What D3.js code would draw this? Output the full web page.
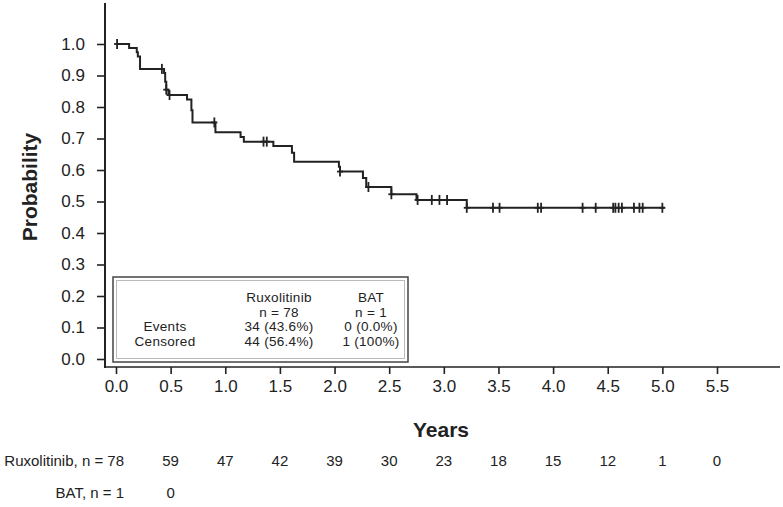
<!DOCTYPE html>
<html><head><meta charset="utf-8">
<script src="https://cdn.jsdelivr.net/npm/d3@7"></script>
<style>
body{margin:0;background:#fff}
text{font-family:Arial,"Liberation Sans",Helvetica,sans-serif;fill:#222}
</style>
</head><body>
<svg id="c" width="783" height="507"></svg>
<script>
// Kaplan-Meier step curve (Ruxolitinib)
const stepTimes = [0, 0.12, 0.19, 0.20, 0.22, 0.44, 0.45, 0.46, 0.48, 0.65, 0.69, 0.70, 0.91, 1.14, 1.17, 1.44, 1.61, 1.63, 2.04, 2.05, 2.26, 2.29, 2.52, 2.75, 3.21];
const stepSurv  = [1.0, 0.987, 0.974, 0.960, 0.921, 0.908, 0.880, 0.855, 0.838, 0.824, 0.790, 0.751, 0.720, 0.705, 0.690, 0.676, 0.655, 0.626, 0.610, 0.595, 0.575, 0.546, 0.523, 0.505, 0.480];
const endTime = 5.02;
const censorTimes = [0.01, 0.42, 0.46, 0.49, 0.90, 1.35, 1.38, 2.05, 2.31, 2.52, 2.76, 2.89, 2.96, 3.03, 3.21, 3.45, 3.51, 3.86, 3.89, 4.27, 4.39, 4.55, 4.57, 4.60, 4.63, 4.74, 4.79, 4.82, 5.00];

const xTicks = [0, 0.5, 1, 1.5, 2, 2.5, 3, 3.5, 4, 4.5, 5, 5.5];
const yTicks = [0, 0.1, 0.2, 0.3, 0.4, 0.5, 0.6, 0.7, 0.8, 0.9, 1.0];

const riskTimes = [0.5, 1, 1.5, 2, 2.5, 3, 3.5, 4, 4.5, 5, 5.5];
const riskRux = [59, 47, 42, 39, 30, 23, 18, 15, 12, 1, 0];
const riskBatTimes = [0.5];
const riskBat = [0];

const legendHeader = ["Ruxolitinib", "BAT"];
const legendN = ["n = 78", "n = 1"];
const legendRows = ["Events", "Censored"];
const legendRux = ["34 (43.6%)", "44 (56.4%)"];
const legendBat = ["0 (0.0%)", "1 (100%)"];

const svg = d3.select("#c");
const x = d3.scaleLinear().domain([0, 5.5]).range([116, 717]);
const y = d3.scaleLinear().domain([0, 1]).range([359, 44]);
const ink = "#222";

// axis lines
svg.append("line").attr("x1",105).attr("x2",105).attr("y1",3).attr("y2",368).attr("stroke",ink).attr("stroke-width",2);
svg.append("line").attr("x1",104).attr("x2",780).attr("y1",367).attr("y2",367).attr("stroke",ink).attr("stroke-width",1.6);

// y axis
const gy = svg.append("g").attr("transform","translate(105,0)")
  .call(d3.axisLeft(y).tickValues(yTicks).tickFormat(d3.format(".1f")).tickSize(8).tickPadding(12));
gy.select(".domain").remove();
gy.selectAll(".tick line").attr("stroke",ink).attr("stroke-width",1.6);
gy.selectAll(".tick text").attr("font-size",17).attr("fill",ink).style("font-family","Arial,'Liberation Sans',sans-serif");

// x axis
const gx = svg.append("g").attr("transform","translate(0,367)")
  .call(d3.axisBottom(x).tickValues(xTicks).tickFormat(d3.format(".1f")).tickSize(7).tickPadding(6));
gx.select(".domain").remove();
gx.selectAll(".tick line").attr("stroke",ink).attr("stroke-width",1.6);
gx.selectAll(".tick text").attr("font-size",17).attr("fill",ink).style("font-family","Arial,'Liberation Sans',sans-serif");

// axis titles
svg.append("text").attr("transform","translate(37,187) rotate(-90)").attr("text-anchor","middle")
  .attr("font-size",21).attr("font-weight","bold").text("Probability");
svg.append("text").attr("x",441).attr("y",437).attr("text-anchor","middle")
  .attr("font-size",21).attr("font-weight","bold").text("Years");

// KM curve
const pts = stepTimes.map((t,i)=>[t, stepSurv[i]]);
pts.push([endTime, stepSurv[stepSurv.length-1]]);
const line = d3.line().x(d=>x(d[0])).y(d=>y(d[1])).curve(d3.curveStepAfter);
svg.append("path").attr("d", line(pts)).attr("fill","none").attr("stroke",ink).attr("stroke-width",2);

// censor marks
const survAt = t => { let s = stepSurv[0]; for (let i=0;i<stepTimes.length;i++){ if (stepTimes[i] <= t) s = stepSurv[i]; } return s; };
const cg = svg.append("g").attr("stroke",ink).attr("stroke-width",1.8);
censorTimes.forEach(t=>{
  const cx = x(t), cy = y(survAt(t));
  cg.append("line").attr("x1",cx).attr("x2",cx).attr("y1",cy-5).attr("y2",cy+5);
  cg.append("line").attr("x1",cx-3).attr("x2",cx+3).attr("y1",cy).attr("y2",cy);
});

// legend box
svg.append("rect").attr("x",113).attr("y",277).attr("width",295).attr("height",85)
  .attr("fill","#fff").attr("stroke","#444").attr("stroke-width",1.5);
svg.append("rect").attr("x",116.5).attr("y",280.5).attr("width",288).attr("height",78)
  .attr("fill","none").attr("stroke","#bbb").attr("stroke-width",1);
const colX = [279, 371];
const lg = svg.append("g").attr("font-size",13.5).attr("letter-spacing","0.3px").attr("text-anchor","middle");
legendHeader.forEach((s,i)=>lg.append("text").attr("x",colX[i]).attr("y",302).text(s));
legendN.forEach((s,i)=>lg.append("text").attr("x",colX[i]).attr("y",316.5).text(s));
legendRows.forEach((s,j)=>lg.append("text").attr("x",165).attr("y",331+j*15).text(s));
legendRux.forEach((s,j)=>lg.append("text").attr("x",colX[0]).attr("y",331+j*15).text(s));
legendBat.forEach((s,j)=>lg.append("text").attr("x",colX[1]).attr("y",331+j*15).text(s));

// risk table
const rt = svg.append("g").attr("font-size",15);
rt.append("text").attr("x",124).attr("y",466).attr("text-anchor","end").text("Ruxolitinib, n = 78");
riskRux.forEach((v,i)=>rt.append("text").attr("x",x(riskTimes[i])).attr("y",466).attr("text-anchor","middle").text(v));
rt.append("text").attr("x",124).attr("y",498).attr("text-anchor","end").text("BAT, n = 1");
riskBat.forEach((v,i)=>rt.append("text").attr("x",x(riskBatTimes[i])).attr("y",498).attr("text-anchor","middle").text(v));
</script>
</body></html>
